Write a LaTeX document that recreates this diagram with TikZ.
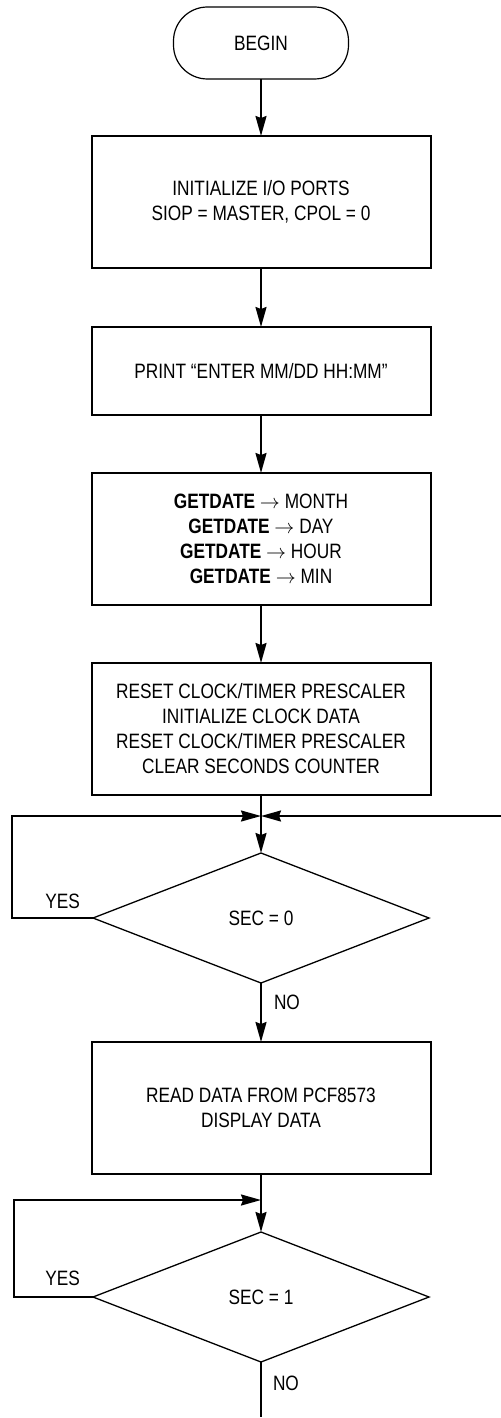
\documentclass[tikz,border=0pt]{standalone}
\usepackage{fontspec}
\setmainfont[FakeStretch=0.83]{Liberation Sans}
\usetikzlibrary{
  shapes.geometric, % Shape "diamond"
  arrows.meta,
  positioning,      % Function "of" (e.g. [below=of x])
}
\def\mygap{29pt}
\newcommand{\gd}{\textbf{GETDATE} $\rightarrow$ }
\tikzset{
  >={Stealth[length=10pt,width=5.5pt,inset=1pt]},
  flow/.style={
    line width=1pt
  },
  my start/.style={
    draw,
    line width=0.6pt,
    rounded corners=17pt,
    minimum width=87.5pt,
    minimum height=36pt,
    outer sep=0pt
  },
  my box/.style={
    draw,
    line width=1pt,
    minimum width=169.5pt,
    minimum height=66pt,
    inner sep=0pt,
    outer sep=0pt,
    align=center
  },
  my box low/.style={
    my box,
    minimum height=44pt
  },
  my test/.style={
    draw,
    diamond,
    line width=0.65pt,
    minimum width=168pt,
    minimum height=65pt,
    inner sep=0pt,
    outer sep=0pt
  },
  my label/.style={
    inner sep=0pt
  }
}

\begin{document}
\begin{tikzpicture}[flow,font=\fontsize{10.4pt}{12.5pt}\selectfont]
\useasboundingbox (0,0) rectangle (250.5pt,-709pt);
% Start and setup boxes
\node[my start] (begin) at (130.5pt,-21.5pt) {BEGIN};
\node[my box] (ports) [below=28.5pt of begin] {INITIALIZE I/O PORTS\\SIOP = MASTER, CPOL = 0};
\draw[->] (begin) -- (ports);
\node[my box low] (print) [below=29.5pt of ports] {PRINT “ENTER MM/DD HH:MM”};
\draw[->] (ports) -- (print);
\node[my box] (date) [below=\mygap of print] {\gd MONTH\\\gd DAY\\\gd HOUR\\\gd MIN};
\draw[->] (print) -- (date);
\node[my box] (clock) [below=\mygap of date] {RESET CLOCK/TIMER PRESCALER\\INITIALIZE CLOCK DATA\\RESET CLOCK/TIMER PRESCALER\\CLEAR SECONDS COUNTER};
\draw[->] (date) -- (clock);
% Test SEC = 0
\node[my test] (sec0) [below=\mygap of clock] {SEC = 0};
\coordinate[below=10.5pt of clock] (join0);
\coordinate[left=124.5pt of join0] (back0);
\coordinate[right=120pt of join0] (in0);
\draw[->] (clock) -- (sec0);
\draw[->] (sec0.west) -| (back0) -- (join0);
\draw[->] (in0) -- (join0);
\node[my label,above left=4pt and 6pt of sec0.west] (yes0) {YES};
\node[my label,below right=5.5pt and 6pt of sec0.south] (no0) {NO};
% Read and display
\node[my box] (read) [below=29.5pt of sec0] {READ DATA FROM PCF8573\\DISPLAY DATA};
\draw[->] (sec0) -- (read);
% Test SEC = 1
\node[my test] (sec1) [below=\mygap of read] {SEC = 1};
\coordinate[below=13pt of read] (join1);
\coordinate[left=123.5pt of join1] (back1);
\coordinate[below=27.5pt of sec1] (exit);
\draw[->] (read) -- (sec1);
\draw[->] (sec1.west) -| (back1) -- (join1);
\draw (sec1) -- (exit);
\node[my label,above left=5pt and 6pt of sec1.west] (yes1) {YES};
\node[my label,below right=6.5pt and 5.5pt of sec1.south] (no1) {NO};
\end{tikzpicture}
\end{document}
